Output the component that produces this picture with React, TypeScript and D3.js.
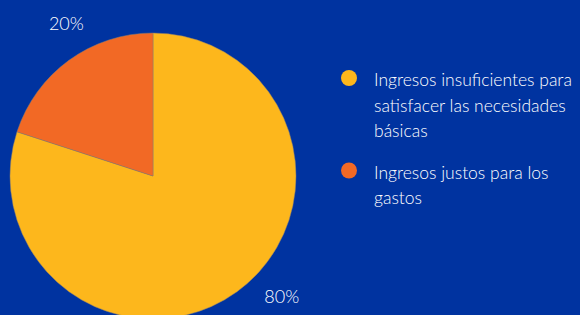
import React, { useEffect, useRef } from 'react';
import * as d3 from 'd3';

const categories = [
  'Ingresos insuficientes para satisfacer las necesidades básicas',
  'Ingresos justos para los gastos',
];
const values = [80, 20];
const colors = ['#FDB71C', '#F26925'];

const App = () => {
  const ref = useRef<HTMLDivElement>(null);

  useEffect(() => {
    if (!ref.current) return;
    d3.select(ref.current).selectAll('*').remove();

    const width = 580;
    const height = 315;
    const cx = 153;
    const cy = 176;
    const radius = 143;
    const font = 'Lato, "Open Sans", sans-serif';

    const svg = d3
      .select(ref.current)
      .append('svg')
      .attr('width', width)
      .attr('height', height)
      .style('display', 'block');

    svg.append('rect').attr('width', width).attr('height', height).attr('fill', '#0033A0');

    const pie = d3.pie<number>().sort(null).value((d) => d);
    const arcs = pie(values);
    const arc = d3.arc<d3.PieArcDatum<number>>().innerRadius(0).outerRadius(radius);

    const g = svg.append('g').attr('transform', `translate(${cx},${cy})`);
    g.selectAll('path')
      .data(arcs)
      .join('path')
      .attr('d', arc)
      .attr('fill', (_, i) => colors[i])
      .attr('stroke', '#8a7f70')
      .attr('stroke-width', 0.5);

    // percentage labels outside the pie
    const labelR = 176;
    const nudge = [-11, 6.5]; // degrees
    g.selectAll('text.pct')
      .data(arcs)
      .join('text')
      .attr('class', 'pct')
      .each(function (d, i) {
        const a = (d.startAngle + d.endAngle) / 2 + (nudge[i] * Math.PI) / 180;
        d3.select(this)
          .attr('x', Math.sin(a) * labelR)
          .attr('y', -Math.cos(a) * labelR + 7);
      })
      .attr('text-anchor', 'middle')
      .attr('fill', '#fff')
      .attr('font-family', font)
      .attr('font-weight', 300)
      .attr('font-size', 18)
      .text((d) => `${Math.round((d.data / d3.sum(values)) * 100)}%`);

    // legend
    const legendX = 349;
    const textX = 374;
    const lineH = 25.5;
    const maxW = 210;
    let y = 86;
    categories.forEach((name, i) => {
      svg
        .append('circle')
        .attr('cx', legendX)
        .attr('cy', y - 8)
        .attr('r', 8)
        .attr('fill', colors[i]);
      const text = svg
        .append('text')
        .attr('x', textX)
        .attr('y', y)
        .attr('fill', '#fff')
        .attr('font-family', font)
        .attr('font-weight', 300)
        .attr('font-size', 17.5);
      const words = name.split(' ');
      let line: string[] = [];
      let tspan = text.append('tspan').attr('x', textX).attr('y', y);
      let lines = 1;
      words.forEach((w) => {
        line.push(w);
        tspan.text(line.join(' '));
        if ((tspan.node() as SVGTSpanElement).getComputedTextLength() > maxW && line.length > 1) {
          line.pop();
          tspan.text(line.join(' '));
          line = [w];
          tspan = text
            .append('tspan')
            .attr('x', textX)
            .attr('y', y + lines * lineH)
            .text(w);
          lines += 1;
        }
      });
      y += lines * lineH + 16;
    });
  }, []);

  return <div ref={ref} style={{ position: 'fixed', top: 0, left: 0 }}></div>;
};

export default App;
